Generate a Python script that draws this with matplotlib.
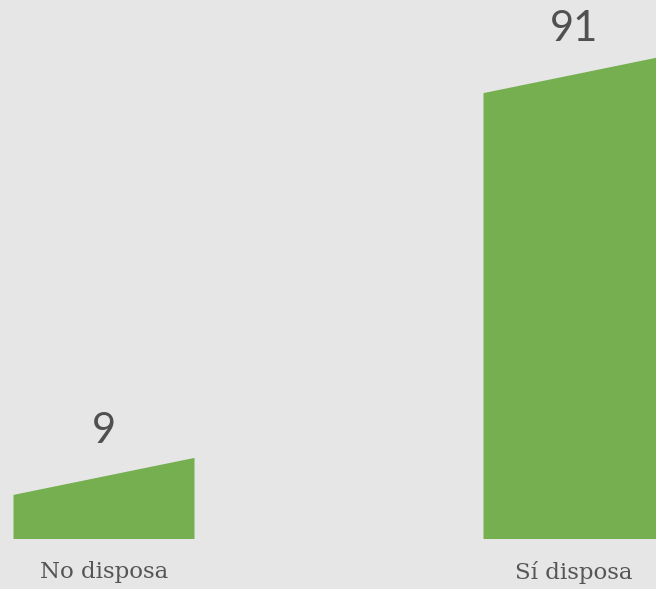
import numpy as np
import matplotlib.pyplot as plt
from matplotlib.patches import Polygon

categorias = ["No disposa", "Sí disposa"]
valores = [9, 91]

fondo = "#e6e6e6"
verde = "#75af50"
gris = "#505050"

fig = plt.figure(figsize=(6.56, 5.89), dpi=100, facecolor=fondo)
ax = fig.add_axes([0, 0, 1, 1], facecolor=fondo)

# escala aproximada: 470 px entre barras, ~4.9 px por unidad
ax.set_xlim(-104 / 470, (656 - 104) / 470)
ax.set_ylim(-50 / 4.9, 539 / 4.9)

ancho = 181 / 470
inclina = 37 / 4.9  # subida del borde superior (en unidades de y)

for i, (cat, v) in enumerate(zip(categorias, valores)):
    x0, x1 = i - ancho / 2, i + ancho / 2
    poly = Polygon([(x0, 0), (x1, 0), (x1, v + inclina), (x0, v)],
                   closed=True, facecolor=verde, edgecolor="none")
    ax.add_patch(poly)
    ax.annotate(str(v), (i, v + inclina), xytext=(0, 6), textcoords="offset points",
                ha="center", va="bottom", fontsize=30, color=gris,
                family=["Lato", "DejaVu Sans"], fontweight="normal")
    ax.annotate(cat, (i, 0), xytext=(0, -16), textcoords="offset points",
                ha="center", va="top", fontsize=16.5, color="#555555",
                family=["DejaVu Serif"])

ax.axis("off")
fig.savefig("out.png", dpi=100, facecolor=fondo)
